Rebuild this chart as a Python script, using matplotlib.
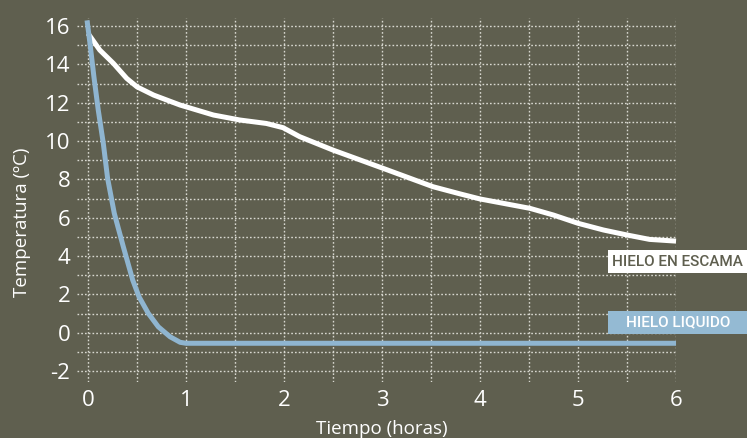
import matplotlib
matplotlib.use("Agg")
import matplotlib.pyplot as plt
from matplotlib.patches import Rectangle
import numpy as np

# Data
escama_x = [0.0, 0.12, 0.26, 0.395, 0.5, 0.67, 0.94, 1.28, 1.55, 1.82, 1.99, 2.16, 2.5, 3.01, 3.52, 3.8, 4.0, 4.24, 4.51, 4.75, 5.0, 5.26, 5.5, 5.73, 6.0]
escama_y = [15.62, 14.75, 14.05, 13.27, 12.83, 12.4, 11.88, 11.36, 11.1, 10.92, 10.7, 10.23, 9.53, 8.58, 7.62, 7.24, 6.98, 6.75, 6.49, 6.14, 5.71, 5.36, 5.1, 4.87, 4.78]

liquido_x = [-0.01, 0.02, 0.06, 0.105, 0.156, 0.2, 0.268, 0.36, 0.456, 0.52, 0.615, 0.717, 0.837, 0.94, 1.0, 2.0, 3.0, 4.0, 5.0, 6.0]
liquido_y = [16.3, 15.1, 13.36, 11.6, 9.88, 8.05, 6.23, 4.49, 2.75, 1.88, 1.01, 0.31, -0.21, -0.5, -0.55, -0.55, -0.55, -0.55, -0.55, -0.55]

x_ticks = [0, 1, 2, 3, 4, 5, 6]
y_ticks = [-2, 0, 2, 4, 6, 8, 10, 12, 14, 16]
x_label = "Tiempo (horas)"
y_label = "Temperatura (ºC)"
label_escama = "HIELO EN ESCAMA"
label_liquido = "HIELO LIQUIDO"

bg = "#5f5f4f"
blue = "#8fb5d0"
box_blue = "#94bad3"
grid_c = "#d8d8d0"

plt.rcParams['font.family'] = ['Open Sans', 'DejaVu Sans']

fig = plt.figure(figsize=(7.47, 4.38), dpi=100, facecolor=bg)
ax = fig.add_axes([0.1034, 0.1279, 0.8016, 0.830])
ax.set_facecolor(bg)
ax.set_xlim(-0.11, 6.0)
ax.set_ylim(-2.57, 16.4)

ax.set_xticks(np.arange(0, 6.01, 0.5), minor=True)
ax.set_yticks(np.arange(-2, 16.01, 1), minor=True)
ax.set_xticks(x_ticks)
ax.set_yticks(y_ticks)
ax.set_xticklabels([str(t) for t in x_ticks])
ax.set_yticklabels([str(t) for t in y_ticks])
ax.grid(True, which='both', linestyle=(0, (1.2, 1.5)), color=grid_c, linewidth=1.0)
ax.set_axisbelow(True)
ax.tick_params(which='both', length=0, colors='white', labelsize=16)
ax.tick_params(axis='y', pad=5)
ax.tick_params(axis='x', pad=6)
for s in ax.spines.values():
    s.set_visible(False)

ax.plot(escama_x, escama_y, color='white', lw=3.6, solid_capstyle='butt',
        solid_joinstyle='round', clip_on=False, zorder=3)
ax.plot(liquido_x, liquido_y, color=blue, lw=3.6, solid_capstyle='butt',
        solid_joinstyle='round', clip_on=False, zorder=4)

fig.text(0.511, 0.0, x_label, color='white', fontsize=13.5, ha='center', va='bottom')
fig.text(0.030, 0.492, y_label, color='white', fontsize=13.5, ha='center', va='center', rotation=90)

# label boxes
fig.patches.append(Rectangle((608/747, 1-273/438), 139/747, 23/438, transform=fig.transFigure,
                             facecolor='white', edgecolor='none'))
fig.text(677.5/747, 1-261.5/438, label_escama, color=bg, fontsize=11, fontweight='medium',
         ha='center', va='center', family=['Roboto', 'DejaVu Sans'])
fig.patches.append(Rectangle((608/747, 1-334/438), 139/747, 23/438, transform=fig.transFigure,
                             facecolor=box_blue, edgecolor='none'))
fig.text(678/747, 1-322.5/438, label_liquido, color='white', fontsize=11, fontweight='medium',
         ha='center', va='center', family=['Roboto', 'DejaVu Sans'])

fig.savefig("out.png", dpi=100, facecolor=bg)
